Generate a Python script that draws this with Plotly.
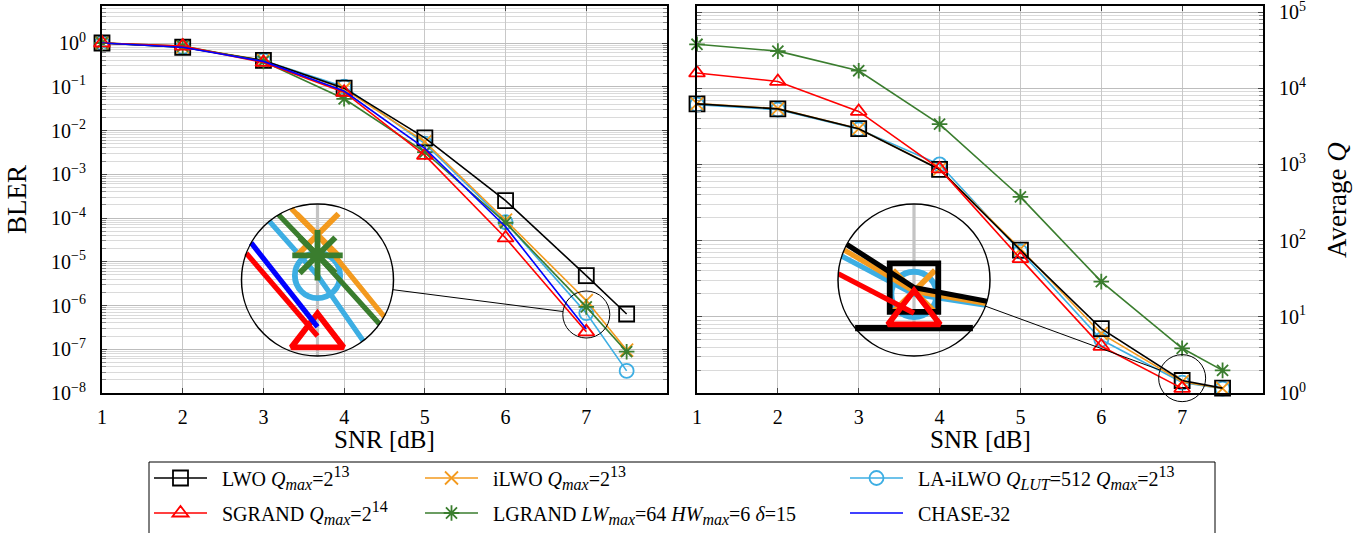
import numpy as np
import plotly.graph_objects as go

W, H = 1371, 533
FONT = "Liberation Serif"

# ---------------- data ----------------
snr = [1, 2, 3, 4, 5, 6, 7, 7.5]
snr_to7 = [1, 2, 3, 4, 5, 6, 7]

# BLER (left panel)
bler_lwo = [1.0, 0.80, 0.40, 0.093, 6.8e-3, 2.5e-4, 4.8e-6, 6.4e-7]
bler_sgrand = [1.0, 0.85, 0.36, 0.075, 2.7e-3, 3.5e-5, 2.5e-7]
bler_ilwo = [1.0, 0.82, 0.40, 0.090, 5.5e-3, 8.9e-5, 1.3e-6, 9.6e-8]
bler_lgrand = [1.0, 0.85, 0.38, 0.053, 3.2e-3, 7.8e-5, 9.3e-7, 8.8e-8]
bler_lailwo = [1.0, 0.80, 0.40, 0.10, 5.0e-3, 8.0e-5, 6.7e-7, 3.2e-8]
bler_chase = [1.0, 0.80, 0.38, 0.080, 3.9e-3, 6.3e-5, 2.9e-7]

# Average Q (right panel)
q_lwo = [6250, 5370, 2950, 860, 75, 7.0, 1.46, 1.16]
q_sgrand = [15900, 12300, 4970, 875, 58, 4.1, 1.15]
q_ilwo = [6300, 5400, 2950, 870, 78, 6.0, 1.41, 1.15]
q_lgrand = [37800, 30700, 17000, 3390, 375, 29, 3.86, 1.98]
q_lailwo = [6100, 5250, 2900, 1000, 72, 5.0, 1.37, 1.14]

x_ticks = [1, 2, 3, 4, 5, 6, 7]
bler_decades = list(range(-8, 1))
q_decades = list(range(0, 6))


def m(s):
    return "<i>" + s + "</i>"


def sb(s):
    return "<sub><span style='font-size:16px'><i>" + s + "</i></span></sub>"


def sp(s):
    return "<sup><span style='font-size:16px'>" + s + "</span></sup>"


LEAD = "\u2002"
names = {
    "LWO": LEAD + "LWO " + m("Q") + sb("max") + "=2" + sp("13"),
    "SGRAND": LEAD + "SGRAND " + m("Q") + sb("max") + "=2" + sp("14"),
    "iLWO": LEAD + "iLWO " + m("Q") + sb("max") + "=2" + sp("13"),
    "LGRAND": LEAD + "LGRAND " + m("LW") + sb("max") + "=64 " + m("HW") + sb("max") + "=6 " + m("δ") + "=15",
    "LA-iLWO": LEAD + "LA-iLWO " + m("Q") + sb("LUT") + "=512 " + m("Q") + sb("max") + "=2" + sp("13"),
    "CHASE-32": LEAD + "CHASE-32",
}

# drawing order (first = bottom)
series = [
    ("LA-iLWO", snr, bler_lailwo, snr, q_lailwo),
    ("iLWO", snr, bler_ilwo, snr, q_ilwo),
    ("LWO", snr, bler_lwo, snr, q_lwo),
    ("LGRAND", snr, bler_lgrand, snr, q_lgrand),
    ("SGRAND", snr_to7, bler_sgrand, snr_to7, q_sgrand),
    ("CHASE-32", snr_to7, bler_chase, None, None),
]

styles = {
    "LA-iLWO": dict(color="#3DAEE3", symbol="circle-open", size=14),
    "iLWO": dict(color="#F39A1E", symbol="x-thin-open", size=13),
    "LWO": dict(color="#000000", symbol="square-open", size=15),
    "LGRAND": dict(color="#3A7D2E", symbol="asterisk-open", size=13),
    "SGRAND": dict(color="#FF0000", symbol="triangle-up-open", size=14),
    "CHASE-32": dict(color="#0000FF", symbol=None, size=0),
}

legend_slot = {"LWO": (0, 0), "SGRAND": (0, 1), "iLWO": (1, 0),
               "LGRAND": (1, 1), "LA-iLWO": (2, 0), "CHASE-32": (2, 1)}
legend_ids = {"LWO": "legend", "SGRAND": "legend2", "iLWO": "legend3",
              "LGRAND": "legend4", "LA-iLWO": "legend5", "CHASE-32": "legend6"}
col_x = [149, 420, 845]
row_y = [478, 513]

# ---------------- geometry (pixels) ----------------
LX0, LX1, RX0, RX1, PY0, PY1 = 102, 667, 697, 1263, 6, 393
X_RANGE = [1, 8]
L_YR = [-8, 0.846]
R_YR = [0, 5.08]
LW = 1.6
MAG = 76 / 23.5


def fx(v):
    return v / W


def fy(v):
    return 1 - v / H


def data_to_px(x, logy, x0, x1, yr):
    pxx = x0 + (x - X_RANGE[0]) / (X_RANGE[1] - X_RANGE[0]) * (x1 - x0)
    pyy = PY1 - (logy - yr[0]) / (yr[1] - yr[0]) * (PY1 - PY0)
    return pxx, pyy


fig = go.Figure()

# main traces
for key, xb, yb, xq, yq in series:
    st = styles[key]
    mode = "lines+markers" if st["symbol"] else "lines"
    mk = dict(symbol=st["symbol"], size=st["size"], color=st["color"],
              line=dict(color=st["color"], width=1.8)) if st["symbol"] else None
    fig.add_trace(go.Scatter(
        x=xb, y=yb, mode=mode, name=names[key], xaxis="x", yaxis="y",
        line=dict(color=st["color"], width=LW), marker=mk, cliponaxis=False,
        legend=legend_ids[key], showlegend=True))
    if xq is not None:
        fig.add_trace(go.Scatter(
            x=xq, y=yq, mode=mode, xaxis="x2", yaxis="y2", showlegend=False,
            line=dict(color=st["color"], width=LW), marker=mk, cliponaxis=False))


# ---------------- insets ----------------
def clip_to_circle(xs, ls, cx, cl, rx, rl):
    u = [(x - cx) / rx for x in xs]
    v = [(l - cl) / rl for l in ls]
    pts = []
    last_end = None
    for i in range(len(u) - 1):
        u0, v0, u1, v1 = u[i], v[i], u[i + 1], v[i + 1]
        du, dv = u1 - u0, v1 - v0
        a = du * du + dv * dv
        if a == 0:
            continue
        b = 2 * (u0 * du + v0 * dv)
        c = u0 * u0 + v0 * v0 - 1
        disc = b * b - 4 * a * c
        if disc <= 0:
            continue
        sq = disc ** 0.5
        t0 = max(0.0, (-b - sq) / (2 * a))
        t1 = min(1.0, (-b + sq) / (2 * a))
        if t1 <= t0:
            continue
        s0 = (u0 + t0 * du, v0 + t0 * dv)
        s1 = (u0 + t1 * du, v0 + t1 * dv)
        if last_end == i and t0 == 0.0 and pts:
            pts.append(s1)
        else:
            if pts:
                pts.append(None)
            pts.extend([s0, s1])
        last_end = i + 1 if t1 == 1.0 else None
    ox, oy = [], []
    for p in pts:
        if p is None:
            ox.append(None)
            oy.append(None)
        else:
            ox.append(cx + p[0] * rx)
            oy.append(10 ** (cl + p[1] * rl))
    return ox, oy


insets = [
    dict(xa="x3", ya="y3", big=(317.5, 280.0), x0=LX0, x1=LX1, yr=L_YR,
         cx=7.0, cl=-6.206, panel="bler"),
    dict(xa="x4", ya="y4", big=(914.0, 280.0), x0=RX0, x1=RX1, yr=R_YR,
         cx=7.0, cl=0.195, panel="q"),
]
BIG_R = 76.0
SMALL_R = BIG_R / MAG

for ins in insets:
    ppx = (ins["x1"] - ins["x0"]) / (X_RANGE[1] - X_RANGE[0])
    ppd = (PY1 - PY0) / (ins["yr"][1] - ins["yr"][0])
    rx = SMALL_R / ppx
    rl = SMALL_R / ppd
    ins["rx"], ins["rl"] = rx, rl
    cx, cl = ins["cx"], ins["cl"]
    xa, ya = ins["xa"], ins["ya"]
    lo = cl - 2 * rl if ins["panel"] == "bler" else 0.0
    gx, gy = clip_to_circle([7, 7], [lo, cl + 2 * rl], cx, cl, rx, rl)
    fig.add_trace(go.Scatter(x=gx, y=gy, mode="lines", xaxis=xa, yaxis=ya,
                             line=dict(color="#c4c4c4", width=3.2), showlegend=False))
    if ins["panel"] == "q":
        ax_x, ax_y = clip_to_circle([cx - 2 * rx, cx + 2 * rx], [0.0, 0.0], cx, cl, rx, rl)
        fig.add_trace(go.Scatter(x=ax_x, y=ax_y, mode="lines", xaxis=xa, yaxis=ya,
                                 line=dict(color="black", width=6.2), showlegend=False))
    for key, xb, yb, xq, yq in series:
        st = styles[key]
        xs, ys = (xb, yb) if ins["panel"] == "bler" else (xq, yq)
        if xs is None:
            continue
        ls = [float(np.log10(y)) for y in ys]
        lx, ly = clip_to_circle(xs, ls, cx, cl, rx, rl)
        if lx:
            fig.add_trace(go.Scatter(x=lx, y=ly, mode="lines", xaxis=xa, yaxis=ya,
                                     line=dict(color=st["color"], width=LW * MAG),
                                     showlegend=False))
        if st["symbol"]:
            inside = [((x - cx) / rx) ** 2 + ((l - cl) / rl) ** 2 <= 1.0 for x, l in zip(xs, ls)]
            mx = [x for x, ok in zip(xs, inside) if ok]
            my = [10 ** l for l, ok in zip(ls, inside) if ok]
            if mx:
                fig.add_trace(go.Scatter(
                    x=mx, y=my, mode="markers", xaxis=xa, yaxis=ya, showlegend=False,
                    cliponaxis=False,
                    marker=dict(symbol=st["symbol"], size=st["size"] * MAG, color=st["color"],
                                line=dict(color=st["color"], width=1.8 * MAG))))

# ---------------- axes ----------------
minor_left = [k * 10.0 ** d for d in range(-8, 1) for k in range(2, 10) if k * 10.0 ** d < 7.0]
minor_right = [k * 10.0 ** d for d in range(0, 5) for k in range(2, 10)]


def sup(d):
    return "10<sup>" + (str(d) if d >= 0 else "\u2212" + str(-d)) + "</sup>"


tick_font = dict(family=FONT, size=20, color="black")
common_x = dict(range=X_RANGE, tickvals=x_ticks, ticktext=[str(t) for t in x_ticks],
                showgrid=True, gridcolor="#c8c8c8", gridwidth=1, zeroline=False,
                showline=True, linecolor="black", linewidth=2, mirror="allticks",
                ticks="inside", ticklen=5, tickcolor="#444", tickfont=tick_font,
                ticklabelstandoff=5, automargin=False, ticklabeloverflow="allow")
common_y = dict(type="log", showgrid=True, gridcolor="#bdbdbd", gridwidth=1, zeroline=False,
                showline=True, linecolor="black", linewidth=2, mirror="allticks",
                ticks="inside", ticklen=5, tickcolor="#444", tickfont=tick_font,
                ticklabelstandoff=10, automargin=False, ticklabeloverflow="allow")

fig.update_layout(
    width=W, height=H, margin=dict(l=0, r=0, t=0, b=0, autoexpand=False),
    paper_bgcolor="white", plot_bgcolor="rgba(0,0,0,0)",
    font=dict(family=FONT, size=18, color="black"),
    xaxis=dict(domain=[fx(LX0), fx(LX1)], anchor="y", **common_x),
    yaxis=dict(domain=[fy(PY1), fy(PY0)], anchor="x", range=L_YR,
               tickvals=[10.0 ** d for d in bler_decades], ticktext=[sup(d) for d in bler_decades],
               minor=dict(tickvals=minor_left, showgrid=True, gridcolor="#dadada",
                          ticks="inside", ticklen=4, tickcolor="#888"),
               **common_y),
    xaxis2=dict(domain=[fx(RX0), fx(RX1)], anchor="y2", **common_x),
    yaxis2=dict(domain=[fy(PY1), fy(PY0)], anchor="x2", range=R_YR, side="right",
                tickvals=[10.0 ** d for d in q_decades], ticktext=[sup(d) for d in q_decades],
                minor=dict(tickvals=minor_right, showgrid=True, gridcolor="#dadada",
                           ticks="inside", ticklen=4, tickcolor="#888"),
                **common_y),
)

shapes = []
for ins, key in zip(insets, ["3", "4"]):
    bx, by = ins["big"]
    fig.layout["xaxis" + key] = dict(domain=[fx(bx - BIG_R), fx(bx + BIG_R)], anchor="y" + key,
                                     range=[ins["cx"] - ins["rx"], ins["cx"] + ins["rx"]],
                                     visible=False, automargin=False)
    fig.layout["yaxis" + key] = dict(domain=[fy(by + BIG_R), fy(by - BIG_R)], anchor="x" + key,
                                     type="log",
                                     range=[ins["cl"] - ins["rl"], ins["cl"] + ins["rl"]],
                                     visible=False, automargin=False)
    sx, sy = data_to_px(ins["cx"], ins["cl"], ins["x0"], ins["x1"], ins["yr"])
    shapes.append(dict(type="circle", xref="paper", yref="paper",
                       x0=fx(bx - BIG_R), x1=fx(bx + BIG_R), y0=fy(by + BIG_R), y1=fy(by - BIG_R),
                       line=dict(color="black", width=1.5)))
    shapes.append(dict(type="circle", xref="paper", yref="paper",
                       x0=fx(sx - SMALL_R), x1=fx(sx + SMALL_R), y0=fy(sy + SMALL_R), y1=fy(sy - SMALL_R),
                       line=dict(color="black", width=1)))
    dx, dy = sx - bx, sy - by
    dl = (dx * dx + dy * dy) ** 0.5
    ux, uy = dx / dl, dy / dl
    shapes.append(dict(type="line", xref="paper", yref="paper",
                       x0=fx(bx + ux * BIG_R), y0=fy(by + uy * BIG_R),
                       x1=fx(sx - ux * SMALL_R), y1=fy(sy - uy * SMALL_R),
                       line=dict(color="black", width=1)))

# legend frame
shapes.append(dict(type="rect", xref="paper", yref="paper",
                   x0=fx(149), x1=fx(1215), y0=fy(560), y1=fy(462),
                   line=dict(color="black", width=1), fillcolor="rgba(0,0,0,0)"))
fig.update_layout(shapes=shapes)

for key, lid in legend_ids.items():
    c, r = legend_slot[key]
    fig.layout[lid] = dict(x=fx(col_x[c]), y=fy(row_y[r]), xanchor="left", yanchor="middle",
                           bgcolor="rgba(0,0,0,0)", borderwidth=0, itemwidth=53,
                           font=dict(family=FONT, size=20, color="black"))

annots = [
    dict(text="BLER", x=fx(17), y=fy(200), textangle=-90, font=dict(size=27)),
    dict(text="Average <i>Q</i>", x=fx(1337), y=fy(200), textangle=-90, font=dict(size=27)),
    dict(text="SNR [dB]", x=fx((LX0 + LX1) / 2), y=fy(439), font=dict(size=25)),
    dict(text="SNR [dB]", x=fx((RX0 + RX1) / 2), y=fy(439), font=dict(size=25)),
]
for a in annots:
    a.update(xref="paper", yref="paper", showarrow=False, xanchor="center", yanchor="middle")
    a["font"].update(family=FONT, color="black")
fig.update_layout(annotations=annots)

fig.write_html("out.html", config={"displayModeBar": False},
               post_script="document.body.style.margin='0';document.body.style.overflow='hidden';")
